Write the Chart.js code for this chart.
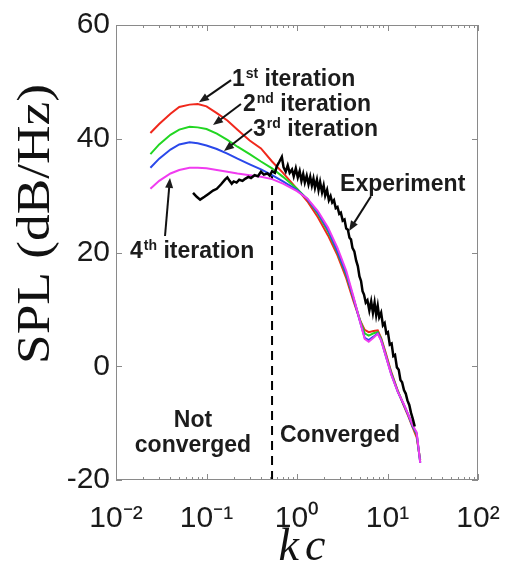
<!DOCTYPE html>
<html>
<head>
<meta charset="utf-8">
<script src="https://cdn.jsdelivr.net/npm/chart.js@4.4.1/dist/chart.umd.min.js"></script>
<style>
  html, body { margin: 0; padding: 0; background: #fff; overflow: hidden; }
  canvas { display: block; }
</style>
</head>
<body>
<canvas id="spl" width="505" height="561"></canvas>
<script>
// kc values of the simulated spectra
var kcSim = [0.024, 0.03, 0.04, 0.05, 0.065, 0.08, 0.1, 0.13, 0.17, 0.22, 0.3, 0.4, 0.53, 0.7, 1.0, 1.3, 1.7, 2.2, 2.8, 3.5,
             4.2, 5.0, 5.6, 6.2, 7.0, 7.8, 8.5, 9.5, 11, 13, 15, 17, 19, 21, 23];
var iter1 = [41.0, 42.6, 44.4, 45.6, 46.0, 46.1, 45.7, 44.5, 43.2, 41.6, 39.7, 38.3, 36.0, 34.0, 31.2, 29.0, 26.2, 23.0, 19.5, 15.5,
             11.5, 8.0, 6.4, 6.0, 6.2, 6.3, 5.0, 2.5, -1.0, -4.3, -6.8, -8.8, -10.8, -12.5, -16.5];
var iter2 = [37.3, 39.0, 40.7, 41.6, 42.1, 42.0, 41.7, 40.9, 39.8, 38.6, 37.3, 36.0, 34.8, 33.3, 31.2, 29.4, 26.8, 23.7, 20.0, 16.0,
             12.0, 8.0, 5.8, 5.4, 5.8, 6.0, 4.8, 2.2, -1.2, -4.4, -6.6, -8.6, -10.6, -12.0, -16.8];
var iter3 = [34.9, 36.5, 38.1, 39.0, 39.4, 39.2, 38.8, 38.2, 37.4, 36.5, 35.5, 34.6, 33.6, 32.5, 31.0, 29.4, 27.0, 24.0, 20.2, 16.3,
             12.0, 7.7, 5.0, 4.6, 5.2, 5.8, 4.6, 2.0, -1.4, -4.5, -6.6, -8.6, -10.6, -11.8, -17.0];
var iter4 = [31.2, 32.6, 33.9, 34.5, 34.9, 34.9, 34.8, 34.5, 34.2, 33.9, 33.6, 33.3, 32.9, 32.1, 30.8, 29.5, 27.3, 24.4, 20.8, 16.8,
             12.3, 7.7, 4.8, 4.3, 5.0, 5.7, 4.5, 2.0, -1.5, -4.5, -6.5, -8.5, -10.4, -11.6, -17.0];

// measured spectrum
var kcExp = [0.071, 0.078, 0.085, 0.095, 0.105, 0.118, 0.13, 0.145, 0.16, 0.17,
             0.18, 0.19, 0.2, 0.215, 0.23, 0.25, 0.27, 0.29, 0.31, 0.34,
             0.37, 0.40, 0.43, 0.47, 0.50, 0.53, 0.57, 0.60, 0.64, 0.68,
             0.71, 0.75, 0.79, 0.83, 0.88, 0.92, 0.97, 1.02, 1.07, 1.12,
             1.17, 1.22, 1.28, 1.34, 1.40, 1.46, 1.52, 1.58, 1.66, 1.73,
             1.80, 1.89, 1.97, 2.05, 2.15, 2.25, 2.35, 2.45, 2.56, 2.68,
             2.80, 2.93, 3.05, 3.2, 3.35, 3.5, 3.65, 3.8, 3.95, 4.1,
             4.3, 4.5, 4.7, 4.9, 5.1, 5.3, 5.5, 5.75, 6.0, 6.3,
             6.6, 6.9, 7.2, 7.5, 7.8, 8.1, 8.5, 8.9, 9.3, 9.7,
             10.1, 10.6, 11.1, 11.6, 12.1, 12.7, 13.3, 13.9, 14.5, 15.2,
             15.9, 16.6, 17.4, 18.2, 19.0, 20.0];
var splExp = [30.5, 29.8, 29.3, 29.8, 30.3, 30.9, 31.2, 32.0, 32.8, 33.2,
              32.6, 32.1, 32.5, 32.3, 32.8, 32.6, 33.0, 33.3, 33.1, 33.6,
              33.4, 34.2, 33.7, 33.9, 33.5, 34.3, 34.0, 35.2, 36.0, 36.8,
              35.0, 34.2, 35.3, 34.0, 34.6, 33.4, 34.8, 33.2, 34.3, 32.6,
              33.8, 32.3, 33.5, 32.0, 33.3, 31.8, 33.0, 31.4, 32.8, 31.0,
              32.4, 30.6, 31.8, 30.0, 31.0, 29.2, 29.9, 28.8, 29.2, 27.8,
              28.0, 26.8, 27.0, 25.6, 25.8, 24.2, 24.0, 22.6, 22.3, 20.8,
              20.2, 18.6, 17.6, 15.8, 15.0, 13.2, 12.6, 11.2, 11.6, 9.8,
              11.4, 9.4, 11.2, 9.0, 10.6, 8.6, 9.4, 7.2, 7.6, 5.8,
              6.0, 3.8, 4.0, 1.8, 2.0, -0.2, -0.6, -2.4, -2.8, -4.2,
              -4.8, -6.0, -6.8, -8.2, -9.2, -10.6];

// convergence limit (dashed line)
var kcLimit = 0.53;
var limitSpan = [-20, 33.5];

var xTickValues = [0.01, 0.1, 1, 10, 100];
var xTickLabels = ['10\u207B\u00B2', '10\u207B\u00B9', '10\u2070', '10\u00B9', '10\u00B2'];
var yTickValues = [-20, 0, 20, 40, 60];

function pts(xs, ys) {
    return xs.map(function (v, i) { return { x: v, y: ys[i] }; });
}

// text notes, placed in data coordinates
var notes = [
    { text: '1', sup: 'st', rest: ' iteration', at: [0.191, 49.3], arrow: [[0.187, 50.3], [0.0826, 46.4]] },
    { text: '2', sup: 'nd', rest: ' iteration', at: [0.253, 44.9], arrow: [[0.2405, 46.1], [0.118, 42.4]] },
    { text: '3', sup: 'rd', rest: ' iteration', at: [0.327, 40.5], arrow: [[0.318, 41.7], [0.156, 37.85]] },
    { text: '4', sup: 'th', rest: ' iteration', at: [0.0143, 19.0], arrow: [[0.0348, 22.9], [0.0395, 33.1]] },
    { text: 'Experiment', at: [2.99, 30.8], arrow: [[6.57, 29.9], [3.76, 23.8]] },
    { text: 'Not', at: [0.0709, -10.7], center: true },
    { text: 'converged', at: [0.0709, -15.1], center: true },
    { text: 'Converged', at: [0.649, -13.3] }
];

function arrow(ctx, x0, y0, x1, y1) {
    var a = Math.atan2(y1 - y0, x1 - x0);
    var hl = 10, hw = 4;
    ctx.beginPath();
    ctx.moveTo(x0, y0);
    ctx.lineTo(x1 - Math.cos(a) * hl * 0.8, y1 - Math.sin(a) * hl * 0.8);
    ctx.stroke();
    ctx.beginPath();
    ctx.moveTo(x1, y1);
    ctx.lineTo(x1 - Math.cos(a) * hl + Math.sin(a) * hw, y1 - Math.sin(a) * hl - Math.cos(a) * hw);
    ctx.lineTo(x1 - Math.cos(a) * hl - Math.sin(a) * hw, y1 - Math.sin(a) * hl + Math.cos(a) * hw);
    ctx.closePath();
    ctx.fill();
}

var overlay = {
    id: 'overlay',
    afterDatasetsDraw: function (chart) {
        var ctx = chart.ctx, a = chart.chartArea;
        var xs = chart.scales.x, ys = chart.scales.y;
        ctx.save();

        // axes box with inward ticks
        ctx.strokeStyle = '#8a8a8a';
        ctx.lineWidth = 1;
        ctx.strokeRect(a.left + 0.5, a.top + 0.5, a.right - a.left - 1, a.bottom - a.top - 1);
        ctx.beginPath();
        yTickValues.forEach(function (v) {
            var p = Math.round(ys.getPixelForValue(v)) + 0.5;
            ctx.moveTo(a.left, p); ctx.lineTo(a.left + 6, p);
            ctx.moveTo(a.right, p); ctx.lineTo(a.right - 6, p);
        });
        xTickValues.forEach(function (v) {
            var p = Math.round(xs.getPixelForValue(v)) + 0.5;
            ctx.moveTo(p, a.bottom); ctx.lineTo(p, a.bottom - 6);
            ctx.moveTo(p, a.top); ctx.lineTo(p, a.top + 6);
            if (v < 100) {
                for (var m = 2; m < 10; m++) {
                    var q = Math.round(xs.getPixelForValue(v * m)) + 0.5;
                    ctx.moveTo(q, a.bottom); ctx.lineTo(q, a.bottom - 3);
                    ctx.moveTo(q, a.top); ctx.lineTo(q, a.top + 3);
                }
            }
        });
        ctx.stroke();

        // notes and arrows
        ctx.fillStyle = '#1c1c1c';
        ctx.strokeStyle = '#111';
        ctx.lineWidth = 2;
        ctx.textBaseline = 'alphabetic';
        var main = 'bold 23px "Liberation Sans", Arial, sans-serif';
        var sup = 'bold 14px "Liberation Sans", Arial, sans-serif';
        notes.forEach(function (n) {
            var px = xs.getPixelForValue(n.at[0]);
            var py = ys.getPixelForValue(n.at[1]);
            ctx.font = main;
            var w = ctx.measureText(n.text).width;
            if (n.center) px -= w / 2;
            ctx.textAlign = 'left';
            ctx.fillText(n.text, px, py);
            var cx = px + w;
            if (n.sup) {
                ctx.font = sup;
                ctx.fillText(n.sup, cx + 1, py - 8);
                cx += ctx.measureText(n.sup).width + 1;
                ctx.font = main;
            }
            if (n.rest) ctx.fillText(n.rest, cx, py);
            if (n.arrow) {
                arrow(ctx,
                    xs.getPixelForValue(n.arrow[0][0]), ys.getPixelForValue(n.arrow[0][1]),
                    xs.getPixelForValue(n.arrow[1][0]), ys.getPixelForValue(n.arrow[1][1]));
            }
        });

        // axis titles
        ctx.fillStyle = '#111';
        ctx.font = '46px "Liberation Serif", "Times New Roman", serif';
        ctx.save();
        ctx.translate(49, 224);
        ctx.rotate(-Math.PI / 2);
        var tw = ctx.measureText('SPL (dB/Hz)').width;
        ctx.scale(280 / tw, 1);
        ctx.textAlign = 'center';
        ctx.fillText('SPL (dB/Hz)', 0, 0);
        ctx.restore();

        ctx.font = 'italic 46px "Liberation Serif", "Times New Roman", serif';
        ctx.letterSpacing = '6px';
        ctx.textAlign = 'center';
        ctx.fillText('kc', (a.left + a.right) / 2 + 8, 560);
        ctx.restore();
    }
};

var tickFont = { family: '"Liberation Sans", Arial, sans-serif', size: 30 };

var splChart = new Chart(document.getElementById('spl'), {
    type: 'line',
    data: {
        datasets: [
            { data: pts(kcExp, splExp), borderColor: '#000', borderWidth: 2.5 },
            { data: pts(kcSim, iter4), borderColor: '#f03cf0', borderWidth: 2 },
            { data: pts(kcSim, iter3), borderColor: '#2a48ea', borderWidth: 2 },
            { data: pts(kcSim, iter2), borderColor: '#22d622', borderWidth: 2 },
            { data: pts(kcSim, iter1), borderColor: '#f0281c', borderWidth: 2 },
            {
                data: [{ x: kcLimit, y: limitSpan[0] }, { x: kcLimit, y: limitSpan[1] }],
                borderColor: '#000', borderWidth: 2, borderDash: [9, 6]
            }
        ]
    },
    options: {
        responsive: false,
        animation: false,
        devicePixelRatio: 1,
        layout: { padding: { left: 0, right: 27, top: 25, bottom: 0 } },
        elements: { point: { radius: 0 }, line: { tension: 0, fill: false } },
        plugins: { legend: { display: false }, tooltip: { enabled: false } },
        scales: {
            x: {
                type: 'logarithmic',
                min: 0.01,
                max: 100,
                afterBuildTicks: function (s) { s.ticks = xTickValues.map(function (v) { return { value: v }; }); },
                afterFit: function (s) { s.height = 81; s.paddingLeft = 0; s.paddingRight = 0; },
                grid: { display: false, drawTicks: false },
                border: { display: false },
                ticks: {
                    autoSkip: false,
                    maxRotation: 0,
                    padding: 21,
                    color: '#1a1a1a',
                    font: tickFont,
                    callback: function (v) { return xTickLabels[xTickValues.indexOf(v)]; }
                }
            },
            y: {
                min: -20,
                max: 60,
                afterBuildTicks: function (s) { s.ticks = yTickValues.map(function (v) { return { value: v }; }); },
                afterFit: function (s) { s.width = 116; s.paddingTop = 0; s.paddingBottom = 0; },
                grid: { display: false, drawTicks: false },
                border: { display: false },
                ticks: { padding: 6, color: '#1a1a1a', font: tickFont }
            }
        }
    },
    plugins: [overlay]
});
</script>
</body>
</html>
